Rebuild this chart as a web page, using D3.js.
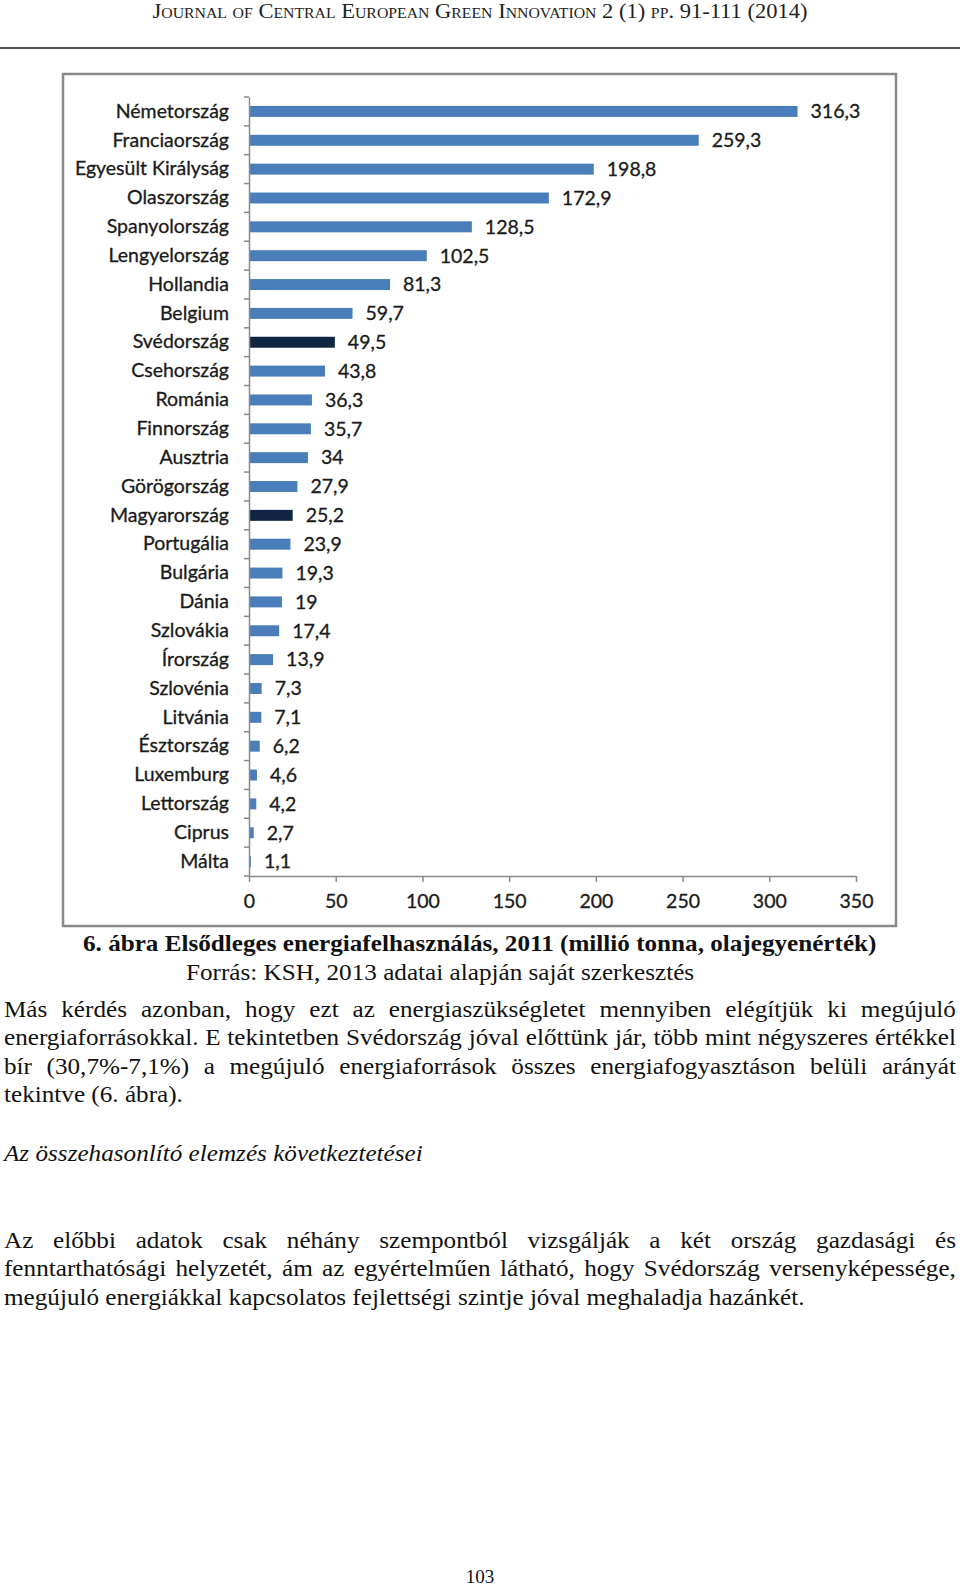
<!DOCTYPE html>
<html>
<head>
<meta charset="utf-8">
<script src="https://cdn.jsdelivr.net/npm/d3@7"></script>
<style>
  html, body { margin: 0; padding: 0; background: #fff; }
  svg { display: block; }
</style>
</head>
<body>
<svg id="page" width="960" height="1588"></svg>
<script>
// ---------------- DATA ----------------
const countries = ["Németország","Franciaország","Egyesült Királyság","Olaszország","Spanyolország","Lengyelország","Hollandia","Belgium","Svédország","Csehország","Románia","Finnország","Ausztria","Görögország","Magyarország","Portugália","Bulgária","Dánia","Szlovákia","Írország","Szlovénia","Litvánia","Észtország","Luxemburg","Lettország","Ciprus","Málta"];
const values = [316.3,259.3,198.8,172.9,128.5,102.5,81.3,59.7,49.5,43.8,36.3,35.7,34,27.9,25.2,23.9,19.3,19,17.4,13.9,7.3,7.1,6.2,4.6,4.2,2.7,1.1];
const highlighted = ["Svédország","Magyarország"];
const xTicks = [0,50,100,150,200,250,300,350];

const headerText = "Journal of Central European Green Innovation 2 (1) pp. 91-111 (2014)";
const captionText = "6. ábra Elsődleges energiafelhasználás, 2011 (millió tonna, olajegyenérték)";
const sourceText = "Forrás:  KSH, 2013 adatai alapján saját szerkesztés";
const para1 = [
  "Más kérdés azonban, hogy ezt az energiaszükségletet mennyiben elégítjük ki megújuló",
  "energiaforrásokkal. E tekintetben Svédország jóval előttünk jár, több mint négyszeres értékkel",
  "bír (30,7%-7,1%) a megújuló energiaforrások összes energiafogyasztáson belüli arányát",
  "tekintve (6. ábra)."
];
const headingText = "Az összehasonlító elemzés következtetései";
const para2 = [
  "Az előbbi adatok csak néhány szempontból vizsgálják a két ország gazdasági és",
  "fenntarthatósági helyzetét, ám az egyértelműen látható, hogy Svédország versenyképessége,",
  "megújuló energiákkal kapcsolatos fejlettségi szintje jóval meghaladja hazánkét."
];
const pageNumber = "103";

// ---------------- PAGE ----------------
const svg = d3.select("#page");
const serif = "Liberation Serif, Times New Roman, Times, serif";

// header
svg.append("text")
  .attr("x", 480).attr("y", 18)
  .attr("text-anchor", "middle")
  .attr("font-family", serif)
  .attr("font-size", 20)
  .attr("font-variant", "small-caps")
  .attr("fill", "#222")
  .attr("textLength", 655)
  .attr("lengthAdjust", "spacingAndGlyphs")
  .text(headerText);

svg.append("line")
  .attr("x1", 0).attr("x2", 960).attr("y1", 48).attr("y2", 48)
  .attr("stroke", "#555").attr("stroke-width", 2);

// ---------------- CHART ----------------
const box = {x: 63, y: 74, w: 833, h: 852};
svg.append("rect")
  .attr("x", box.x).attr("y", box.y).attr("width", box.w).attr("height", box.h)
  .attr("fill", "#fff").attr("stroke", "#8a8a8a").attr("stroke-width", 2.5);

const x = d3.scaleLinear().domain([0, 350]).range([249, 856]);
const y = d3.scaleBand().domain(countries).range([97, 876]).paddingInner(0.62).paddingOuter(0.31);

const chartFont = "Lato, 'Open Sans', sans-serif";
const chartSize = 19.5;
const g = svg.append("g");

// bars
g.selectAll("rect.bar").data(countries).join("rect")
  .attr("class", "bar")
  .attr("x", x(0))
  .attr("y", d => y(d))
  .attr("width", (d, i) => x(values[i]) - x(0))
  .attr("height", y.bandwidth())
  .attr("fill", d => highlighted.includes(d) ? "#10253f" : "#4a7ebb");

// value labels
g.selectAll("text.val").data(countries).join("text")
  .attr("class", "val")
  .attr("x", (d, i) => x(values[i]) + 13)
  .attr("y", d => y(d) + y.bandwidth() / 2)
  .attr("dy", "0.35em")
  .attr("font-family", chartFont)
  .attr("font-size", chartSize)
  .attr("fill", "#1a1a1a").attr("stroke", "#1a1a1a").attr("stroke-width", 0.3)
  .text((d, i) => String(values[i]).replace(".", ","));

// y axis
const yAxis = d3.axisLeft(y).tickSize(0).tickPadding(20);
const yg = g.append("g").attr("transform", `translate(${x(0)},0)`).call(yAxis);
yg.select(".domain").attr("stroke", "#8a8a8a").attr("stroke-width", 1.5);
yg.selectAll(".tick text")
  .attr("font-family", chartFont).attr("font-size", chartSize)
  .attr("fill", "#1a1a1a").attr("stroke", "#1a1a1a").attr("stroke-width", 0.3);
// band boundary ticks
const step = y.step();
const boundaries = d3.range(countries.length + 1).map(i => y.range()[0] + i * step);
yg.selectAll("line.bt").data(boundaries).join("line")
  .attr("class", "bt")
  .attr("x1", -5).attr("x2", 0)
  .attr("y1", d => d).attr("y2", d => d)
  .attr("stroke", "#8a8a8a").attr("stroke-width", 1.5);

// x axis
const xAxis = d3.axisBottom(x).tickValues(xTicks).tickSize(6).tickPadding(12).tickSizeOuter(0);
const xg = g.append("g").attr("transform", `translate(0,876)`).call(xAxis);
xg.select(".domain").attr("stroke", "#8a8a8a").attr("stroke-width", 1.5);
xg.selectAll(".tick line").attr("stroke", "#8a8a8a").attr("stroke-width", 1.5);
xg.selectAll(".tick text")
  .attr("font-family", chartFont).attr("font-size", chartSize)
  .attr("fill", "#1a1a1a").attr("stroke", "#1a1a1a").attr("stroke-width", 0.3);

// ---------------- TEXT BLOCKS ----------------
const bodySize = 23.5;

function measure(str, opts) {
  const t = svg.append("text")
    .attr("font-family", serif).attr("font-size", opts.size)
    .attr("font-weight", opts.weight || "normal")
    .attr("font-style", opts.style || "normal")
    .text(str);
  const w = t.node().getComputedTextLength();
  t.remove();
  return w;
}

// compression factor from the final unjustified line
const cBody = 801 / measure(para2[2], {size: bodySize});

function drawLine(str, x0, x1, baseline, justify, opts) {
  const c = opts.c;
  const grp = svg.append("g").attr("transform", `translate(0,${baseline}) scale(${c},1)`);
  const common = t => t.attr("font-family", serif).attr("font-size", opts.size)
      .attr("font-weight", opts.weight || "normal")
      .attr("font-style", opts.style || "normal").attr("fill", "#111");
  if (!justify) {
    common(grp.append("text").attr("x", x0 / c).attr("y", 0).text(str));
    return;
  }
  const words = str.split(" ");
  const widths = words.map(w => measure(w, opts));
  const total = d3.sum(widths);
  const gap = ((x1 - x0) / c - total) / (words.length - 1);
  let cx = x0 / c;
  words.forEach((w, i) => {
    common(grp.append("text").attr("x", cx).attr("y", 0).text(w));
    cx += widths[i] + gap;
  });
}

const bodyOpts = {size: bodySize, c: cBody};

// caption
const capSize = 23.5;
const capW = measure(captionText, {size: capSize, weight: "bold"});
const cCap = 794 / capW;
drawLine(captionText, 83, 877, 951, false, {size: capSize, weight: "bold", c: cCap});
drawLine(sourceText, 186, 702, 980, false, bodyOpts);

const p1Base = [1017, 1045, 1074, 1102];
para1.forEach((l, i) => drawLine(l, 4, 956, p1Base[i], i < para1.length - 1, bodyOpts));
drawLine(headingText, 4, 422, 1161, false, {size: bodySize, style: "italic", c: cBody});
const p2Base = [1248, 1276, 1305];
para2.forEach((l, i) => drawLine(l, 4, 956, p2Base[i], i < para2.length - 1, bodyOpts));

svg.append("text")
  .attr("x", 480).attr("y", 1583).attr("text-anchor", "middle")
  .attr("font-family", serif).attr("font-size", 19).attr("fill", "#111")
  .text(pageNumber);
</script>
</body>
</html>
